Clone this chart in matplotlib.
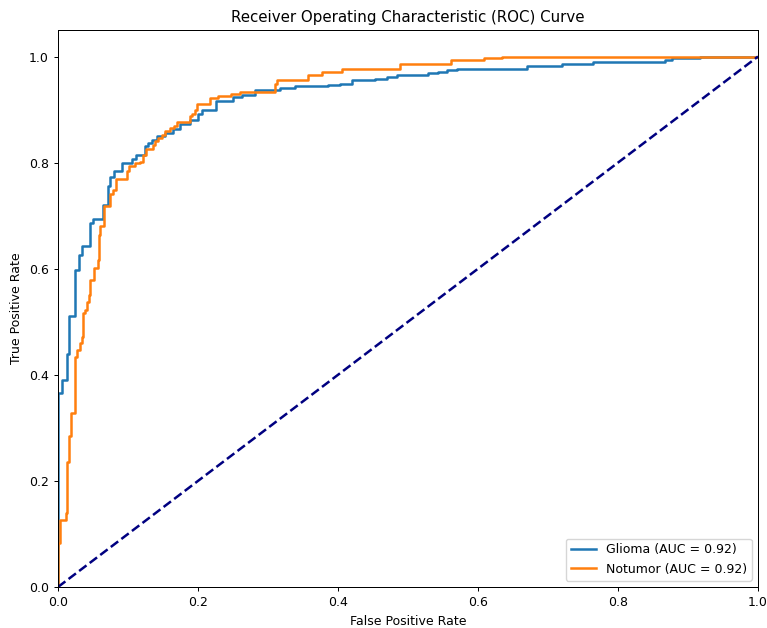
import numpy as np
import matplotlib
matplotlib.use("Agg")
import matplotlib.pyplot as plt

# ROC points (fpr, tpr), drawn as steps
glioma_fpr = [0.0, 0.0, 0.005, 0.013, 0.016, 0.024, 0.030, 0.034, 0.046, 0.050,
              0.064, 0.071, 0.074, 0.080, 0.091, 0.106, 0.112, 0.124, 0.129,
              0.134, 0.141, 0.153, 0.164, 0.174, 0.189, 0.200, 0.205, 0.226,
              0.250, 0.263, 0.281, 0.317, 0.338, 0.386, 0.403, 0.420, 0.453,
              0.470, 0.484, 0.528, 0.543, 0.556, 0.570, 0.670, 0.720, 0.764,
              0.867, 0.877, 0.917, 1.0]
glioma_tpr = [0.0, 0.366, 0.390, 0.440, 0.510, 0.598, 0.626, 0.643, 0.686, 0.694,
              0.720, 0.755, 0.773, 0.785, 0.800, 0.806, 0.815, 0.831, 0.837,
              0.843, 0.850, 0.856, 0.864, 0.872, 0.881, 0.891, 0.900, 0.916,
              0.923, 0.928, 0.936, 0.941, 0.944, 0.946, 0.949, 0.955, 0.957,
              0.962, 0.965, 0.968, 0.971, 0.974, 0.977, 0.982, 0.986, 0.990,
              0.994, 0.997, 1.0, 1.0]

notumor_fpr = [0.0, 0.0, 0.003, 0.012, 0.013, 0.016, 0.019, 0.024, 0.027, 0.031,
               0.034, 0.036, 0.039, 0.042, 0.044, 0.046, 0.052, 0.057, 0.058,
               0.060, 0.065, 0.074, 0.078, 0.083, 0.098, 0.101, 0.110, 0.117,
               0.122, 0.126, 0.136, 0.138, 0.143, 0.149, 0.153, 0.160, 0.165,
               0.170, 0.189, 0.191, 0.196, 0.198, 0.217, 0.229, 0.247, 0.260,
               0.310, 0.313, 0.357, 0.377, 0.405, 0.489, 0.562, 0.608, 0.634, 1.0]
notumor_tpr = [0.0, 0.083, 0.126, 0.139, 0.236, 0.284, 0.328, 0.434, 0.447, 0.460,
               0.472, 0.516, 0.522, 0.538, 0.550, 0.579, 0.602, 0.617, 0.664,
               0.680, 0.719, 0.740, 0.748, 0.770, 0.784, 0.794, 0.800, 0.802,
               0.815, 0.825, 0.834, 0.840, 0.847, 0.853, 0.859, 0.865, 0.869,
               0.876, 0.887, 0.892, 0.900, 0.910, 0.921, 0.925, 0.929, 0.934,
               0.948, 0.955, 0.966, 0.971, 0.977, 0.986, 0.993, 0.997, 1.0, 1.0]

labels = ["Glioma", "Notumor"]
aucs = [0.92, 0.92]

# reference looks like a slightly downscaled default figure
plt.rcParams["font.size"] = 9
plt.rcParams["axes.linewidth"] = 0.72
plt.rcParams["xtick.major.size"] = 3.2
plt.rcParams["ytick.major.size"] = 3.2
plt.rcParams["xtick.major.width"] = 0.72
plt.rcParams["ytick.major.width"] = 0.72

fig = plt.figure(figsize=(7.67, 6.28), dpi=100)
ax = fig.add_axes([58 / 767, 1 - 587 / 628, 700 / 767, 557 / 628])

ax.plot(glioma_fpr, glioma_tpr, drawstyle="steps-post", lw=1.8,
        color="tab:blue", label=f"{labels[0]} (AUC = {aucs[0]:.2f})")
ax.plot(notumor_fpr, notumor_tpr, drawstyle="steps-post", lw=1.8,
        color="tab:orange", label=f"{labels[1]} (AUC = {aucs[1]:.2f})")
ax.plot([0, 1], [0, 1], color="navy", lw=1.8, linestyle="--")

ax.set_xlim(0.0, 1.0)
ax.set_ylim(0.0, 1.05)
ax.set_xlabel("False Positive Rate")
ax.set_ylabel("True Positive Rate")
ax.set_title("Receiver Operating Characteristic (ROC) Curve", fontsize=10.8)
ax.legend(loc="lower right")

plt.savefig("out.png", dpi=100)
